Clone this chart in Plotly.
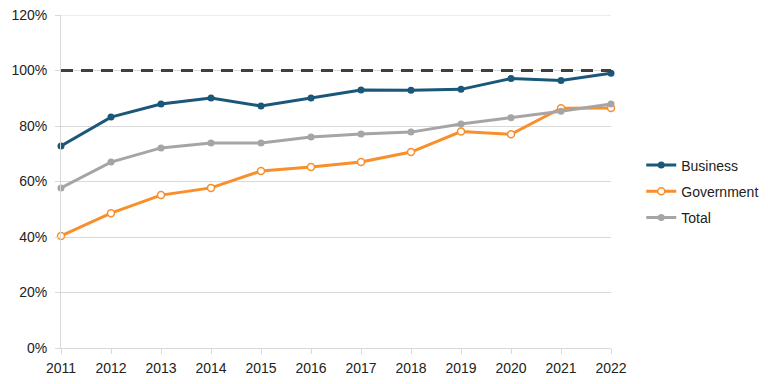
import plotly.graph_objects as go

years = [2011, 2012, 2013, 2014, 2015, 2016, 2017, 2018, 2019, 2020, 2021, 2022]
business = [72.8, 83.2, 87.9, 90.1, 87.2, 90.1, 93.0, 92.9, 93.2, 97.1, 96.4, 99.0]
government = [40.4, 48.6, 55.1, 57.7, 63.8, 65.2, 67.0, 70.6, 78.0, 77.0, 86.4, 86.5]
total = [57.7, 67.0, 72.1, 73.9, 73.9, 76.0, 77.1, 77.8, 80.7, 83.0, 85.3, 87.9]
target = 100
y_ticks = [0, 20, 40, 60, 80, 100, 120]

fig = go.Figure()
fig.add_trace(go.Scatter(x=years, y=business, name="Business", mode="lines+markers",
                         legendgroup="b",
                         line=dict(color="#1B5779", width=3),
                         marker=dict(size=7, color="#1B5779"), cliponaxis=False))
fig.add_trace(go.Scatter(x=years, y=government, name="Government", mode="lines+markers",
                         legendgroup="g",
                         line=dict(color="#F98F2A", width=3),
                         marker=dict(size=7, color="white", line=dict(color="#F98F2A", width=1.5)),
                         cliponaxis=False))
fig.add_trace(go.Scatter(x=years, y=total, name="Total", mode="lines+markers",
                         legendgroup="t",
                         line=dict(color="#A5A5A5", width=3),
                         marker=dict(size=7, color="#A5A5A5"), cliponaxis=False))
fig.add_shape(type="line", xref="paper", x0=0, x1=1, yref="y", y0=y_ticks[-1], y1=y_ticks[-1],
              line=dict(color="#D9D9D9", width=1), layer="below")
fig.add_shape(type="line", xref="paper", x0=0, x1=1, yref="y", y0=target, y1=target,
              line=dict(color="#404040", width=3, dash="12px,8px"), layer="above")

fig.update_layout(
    width=768, height=384,
    margin=dict(l=53, r=165, t=7, b=44),
    paper_bgcolor="white", plot_bgcolor="white",
    font=dict(family="Liberation Sans, Arial, sans-serif", size=14, color="#222222"),
    legend=dict(x=1.055, y=0.47, xanchor="left", yanchor="middle",
                font=dict(size=14), tracegroupgap=5, itemwidth=30),
    showlegend=True,
)
fig.update_xaxes(range=[2011, 2022], tickmode="array", tickvals=years,
                 ticktext=[str(y) for y in years],
                 showgrid=False, showline=True, linecolor="#D9D9D9", linewidth=1,
                 ticks="outside", tickcolor="#D9D9D9", ticklen=5, zeroline=False,
                 ticklabelstandoff=2, ticklabeloverflow="allow")
fig.update_yaxes(range=[0, 120], tickmode="array", tickvals=y_ticks,
                 ticktext=[f"{v}%" for v in y_ticks],
                 showgrid=True, gridcolor="#D9D9D9", gridwidth=1,
                 showline=True, linecolor="#D9D9D9", zeroline=False,
                 ticks="outside", tickcolor="#D9D9D9", ticklen=5,
                 ticklabelstandoff=5, ticklabeloverflow="allow", automargin=False)

fig.write_html("out.html")
